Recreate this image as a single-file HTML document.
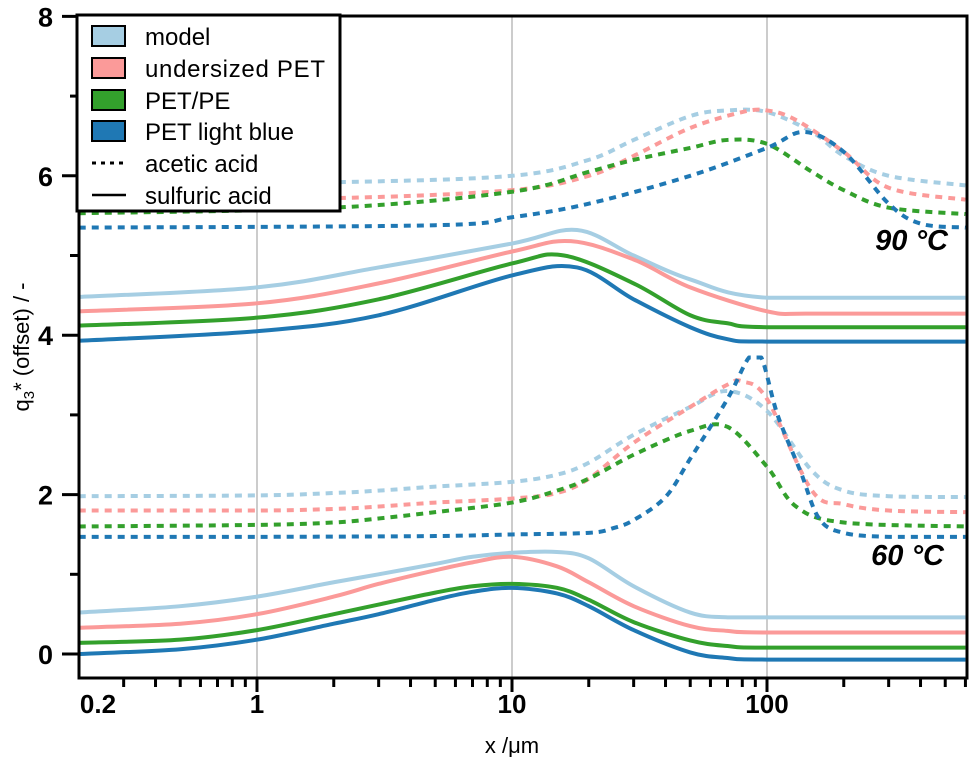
<!DOCTYPE html>
<html><head><meta charset="utf-8"><style>
body{margin:0;background:#fff}
svg{font-family:"Liberation Sans",Arial,sans-serif}
</style></head><body>
<svg id="chart" width="975" height="762" viewBox="0 0 975 762" xmlns="http://www.w3.org/2000/svg">
<g id="grid"></g>
<g id="series"></g>
<g id="axes"></g>
<text x="948" y="250" text-anchor="end" font-size="29" font-weight="bold" font-style="italic">90 °C</text>
<text x="944" y="565" text-anchor="end" font-size="29" font-weight="bold" font-style="italic">60 °C</text>
<text x="512" y="753" text-anchor="middle" font-size="22">x /μm</text>
<text transform="translate(29,347) rotate(-90)" text-anchor="middle" font-size="22">q<tspan font-size="15" dy="5">3</tspan><tspan dy="-5">* (offset) / -</tspan></text>
<g>
<rect x="77" y="15" width="263" height="196" fill="#fff" stroke="#000" stroke-width="3"/>
<rect x="92" y="26" width="33" height="20" fill="#a6cee3" stroke="#000" stroke-width="2"/>
<text x="145" y="45" font-size="24">model</text>
<rect x="92" y="58" width="33" height="20" fill="#fb9a99" stroke="#000" stroke-width="2"/>
<text x="145" y="77" font-size="24" textLength="180">undersized PET</text>
<rect x="92" y="90" width="33" height="20" fill="#33a02c" stroke="#000" stroke-width="2"/>
<text x="145" y="109" font-size="24">PET/PE</text>
<rect x="92" y="121" width="33" height="20" fill="#1f78b4" stroke="#000" stroke-width="2"/>
<text x="145" y="140" font-size="24">PET light blue</text>
<line x1="92" y1="163" x2="126" y2="163" stroke="#000" stroke-width="3" stroke-dasharray="4,5"/>
<text x="145" y="172" font-size="24">acetic acid</text>
<line x1="92" y1="195" x2="126" y2="195" stroke="#000" stroke-width="2.5"/>
<text x="145" y="204" font-size="24">sulfuric acid</text>
</g>
</svg>
<script>
const xTicks=[0.2,1,10,100];
const xTickLabels=["0.2","1","10","100"];
const yTicks=[0,2,4,6,8];
const seriesNames=["model-60-sulfuric","undersized-60-sulfuric","petpe-60-sulfuric","petlb-60-sulfuric","model-60-acetic","undersized-60-acetic","petpe-60-acetic","petlb-60-acetic","model-90-sulfuric","undersized-90-sulfuric","petpe-90-sulfuric","petlb-90-sulfuric","model-90-acetic","undersized-90-acetic","petpe-90-acetic","petlb-90-acetic"];
const seriesColors=["#a6cee3","#fb9a99","#33a02c","#1f78b4","#a6cee3","#fb9a99","#33a02c","#1f78b4","#a6cee3","#fb9a99","#33a02c","#1f78b4","#a6cee3","#fb9a99","#33a02c","#1f78b4"];
const seriesDashed=[0,0,0,0,1,1,1,1,0,0,0,0,1,1,1,1];
const s60mX=[0.2,0.5,1,2,3,5,7,10,15,20,30,50,70,100,600];
const s60mY=[0.52,0.6,0.72,0.9,1.0,1.13,1.22,1.27,1.28,1.2,0.85,0.52,0.46,0.46,0.46];
const s60uX=[0.2,0.5,1,2,3,5,7,10,15,20,30,50,70,100,600];
const s60uY=[0.33,0.38,0.5,0.72,0.88,1.05,1.15,1.22,1.1,0.9,0.6,0.35,0.29,0.27,0.27];
const s60pX=[0.2,0.5,1,2,3,5,7,10,15,20,30,50,70,100,600];
const s60pY=[0.14,0.18,0.3,0.5,0.62,0.77,0.85,0.88,0.83,0.68,0.4,0.17,0.1,0.08,0.08];
const s60bX=[0.2,0.5,1,2,3,5,7,10,15,20,30,50,70,100,600];
const s60bY=[0.0,0.06,0.18,0.38,0.5,0.68,0.78,0.83,0.76,0.6,0.3,0.02,-0.05,-0.07,-0.07];
const a60mX=[0.2,1,2,3,5,10,15,20,30,50,70,100,150,200,300,600];
const a60mY=[1.98,1.99,2.02,2.05,2.1,2.16,2.25,2.4,2.75,3.1,3.3,3.05,2.3,2.05,1.98,1.97];
const a60uX=[0.2,1,2,3,5,10,15,20,30,50,70,80,100,150,200,300,600];
const a60uY=[1.8,1.8,1.82,1.85,1.9,1.95,2.02,2.2,2.65,3.1,3.38,3.42,3.2,2.05,1.88,1.8,1.78];
const a60pX=[0.2,1,2,3,5,10,15,20,30,50,70,100,130,200,600];
const a60pY=[1.6,1.62,1.65,1.7,1.78,1.9,2.05,2.2,2.5,2.8,2.85,2.35,1.85,1.65,1.6];
const a60bX=[0.2,1,5,10,20,25,30,40,50,70,85,95,110,135,160,200,300,600];
const a60bY=[1.47,1.47,1.48,1.5,1.52,1.58,1.68,1.97,2.45,3.2,3.72,3.72,3.0,2.3,1.7,1.52,1.47,1.47];
const s90mX=[0.2,1,3,10,18,30,50,100,600];
const s90mY=[4.48,4.6,4.85,5.15,5.32,5.0,4.7,4.47,4.47];
const s90uX=[0.2,1,3,10,17,30,50,100,150,600];
const s90uY=[4.3,4.4,4.65,5.05,5.18,4.95,4.6,4.3,4.27,4.27];
const s90pX=[0.2,1,3,10,16,30,50,70,100,600];
const s90pY=[4.12,4.22,4.45,4.9,5.0,4.65,4.25,4.15,4.1,4.1];
const s90bX=[0.2,1,3,10,18,30,50,70,100,600];
const s90bY=[3.93,4.05,4.25,4.75,4.85,4.45,4.1,3.95,3.92,3.92];
const a90mX=[0.2,2,10,20,30,50,70,100,150,200,300,600];
const a90mY=[5.9,5.92,6.0,6.2,6.45,6.75,6.82,6.8,6.55,6.25,6.0,5.88];
const a90uX=[0.2,2,10,20,30,50,80,100,130,200,300,600];
const a90uY=[5.7,5.72,5.82,6.0,6.25,6.6,6.8,6.82,6.7,6.3,5.85,5.7];
const a90pX=[0.2,2,10,20,30,50,70,100,150,200,300,600];
const a90pY=[5.53,5.6,5.8,6.05,6.2,6.35,6.45,6.4,6.05,5.82,5.6,5.52];
const a90bX=[0.2,5,10,20,50,100,140,200,300,400,600];
const a90bY=[5.35,5.38,5.48,5.65,6.0,6.35,6.55,6.3,5.65,5.4,5.35];
const allX=[s60mX,s60uX,s60pX,s60bX,a60mX,a60uX,a60pX,a60bX,s90mX,s90uX,s90pX,s90bX,a90mX,a90uX,a90pX,a90bX];
const allY=[s60mY,s60uY,s60pY,s60bY,a60mY,a60uY,a60pY,a60bY,s90mY,s90uY,s90pY,s90bY,a90mY,a90uY,a90pY,a90bY];

const L=79,R=967,T=16,B=678;
const xs=v=>257+255*Math.log10(v);
const ys=v=>654-79.7*v;
const NS="http://www.w3.org/2000/svg";
function mk(t,a,p){const e=document.createElementNS(NS,t);for(const k in a)e.setAttribute(k,a[k]);p.appendChild(e);return e;}
const grid=document.getElementById('grid'),axes=document.getElementById('axes'),ser=document.getElementById('series');
[1,10,100].forEach(v=>{const g=mk('line',{x1:xs(v),x2:xs(v),y1:T,y2:B,stroke:'#999','stroke-width':1},grid);

});
const defs=mk('defs',{},ser);mk('rect',{x:L,y:T,width:R-L,height:B-T},mk('clipPath',{id:'clip'},defs));
function path(px,py){let d=`M${px[0]},${py[0]}`;for(let i=0;i<px.length-1;i++){const p0=i?i-1:i,p3=i+2<px.length?i+2:i+1;
let c1y=py[i]+(py[i+1]-py[p0])/6,c2y=py[i+1]-(py[p3]-py[i])/6;
const lo=Math.min(py[i],py[i+1]),hi=Math.max(py[i],py[i+1]);
if(py[i]===py[i+1]){c1y=py[i];c2y=py[i];}
const c1x=px[i]+(px[i+1]-px[p0])/6,c2x=px[i+1]-(px[p3]-px[i])/6;
d+=` C${c1x},${c1y} ${c2x},${c2y} ${px[i+1]},${py[i+1]}`;}return d;}
for(let s=0;s<allX.length;s++){
const px=allX[s].map(xs),py=allY[s].map(ys);
const p=mk('path',{d:path(px,py),fill:'none',stroke:seriesColors[s],'stroke-width':4,'clip-path':'url(#clip)','stroke-dasharray':seriesDashed[s]?'7,6':'none','stroke-linejoin':'round'},ser);


}
mk('rect',{x:L,y:T,width:R-L,height:B-T,fill:'none',stroke:'#000','stroke-width':3},axes);
yTicks.forEach(v=>{const t=mk('line',{x1:62,x2:L,y1:ys(v),y2:ys(v),stroke:'#000','stroke-width':3},axes);


const l=mk('text',{x:53,y:ys(v)+10,'text-anchor':'end','font-size':27,'font-weight':'bold'},axes);l.textContent=v;

});
[1,3,5,7].forEach(v=>mk('line',{x1:70,x2:L,y1:ys(v),y2:ys(v),stroke:'#000','stroke-width':3},axes));
for(let d=0.1;d<1000;d*=10)for(let k=1;k<10;k++){const v=d*k;const x=xs(v);if(x<L+1||x>R)continue;
const major=k===1;mk('line',{x1:x,x2:x,y1:B,y2:B+(major?14:9),stroke:'#000','stroke-width':3},axes);}
xTicks.forEach((v,i)=>{const l=mk('text',{x:Math.max(xs(v),98),y:713,'text-anchor':'middle','font-size':26,'font-weight':'bold'},axes);l.textContent=xTickLabels[i];

});
</script>
</body></html>
